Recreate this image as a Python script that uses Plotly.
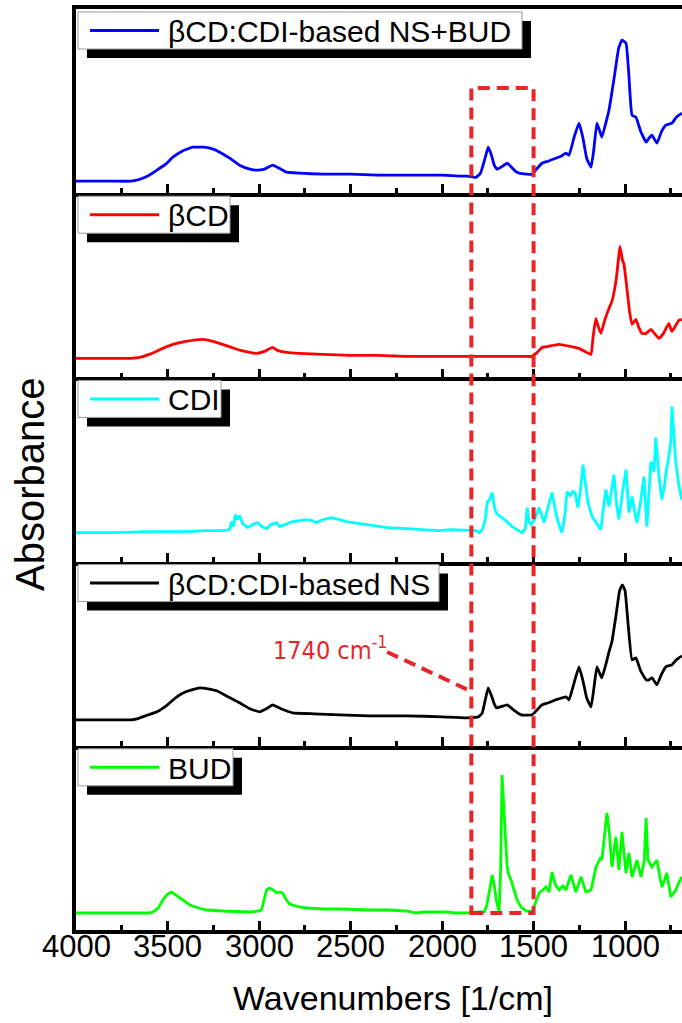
import numpy as np
import plotly.graph_objects as go
from plotly.subplots import make_subplots

# ---------------- DATA (wavenumber [1/cm], absorbance a.u. x100) ----------------
WN_NSBUD = [4000, 3800, 3700, 3670, 3651, 3600, 3558, 3510, 3471, 3420, 3362, 3300, 3250, 3215, 3160,
            3106, 3050, 3013, 2970, 2926, 2890, 2850, 2779, 2650, 2500, 2350, 2200, 2100, 2000, 1900,
            1860, 1830, 1813, 1790, 1765, 1748, 1730, 1715, 1699, 1670, 1644, 1620, 1600, 1579, 1540,
            1508, 1480, 1454, 1420, 1378, 1350, 1323, 1306, 1280, 1252, 1230, 1210, 1186, 1170, 1154,
            1140, 1127, 1100, 1088, 1060, 1035, 1017, 995, 980, 962, 941, 915, 885, 870, 853, 826,
            800, 777, 744, 720, 706, 690]
AB_NSBUD = [12, 12, 12, 13, 14, 18, 23, 29, 36, 42, 46, 46, 44, 41, 35,
            28, 24, 23, 24, 28, 25, 21, 20, 19, 19, 18, 18, 18, 18, 17,
            17, 16, 16, 20, 35, 46, 38, 28, 24, 27, 30, 26, 22, 20, 19,
            19, 25, 30, 32, 35, 37, 40, 38, 55, 70, 55, 35, 26, 45, 70,
            63, 56, 74, 83, 115, 145, 153, 150, 120, 78, 76, 62, 51, 55, 58, 50,
            62, 68, 70, 76, 78, 80]

WN_BCD = [4000, 3800, 3700, 3651, 3600, 3550, 3500, 3450, 3400, 3308, 3250, 3200, 3150, 3100, 3050,
          3013, 2970, 2926, 2900, 2850, 2779, 2650, 2500, 2350, 2200, 2000, 1850, 1750, 1650, 1550,
          1510, 1480, 1454, 1420, 1362, 1300, 1252, 1210, 1186, 1175, 1160, 1145, 1132, 1110, 1088,
          1072, 1050, 1035, 1028, 1015, 1006, 990, 975, 962, 941, 925, 908, 885, 859, 840,
          815, 790, 761, 744, 720, 706, 690]
AB_BCD = [19, 19, 19, 20, 23, 27, 31, 34, 36, 38, 36, 33, 30, 27, 25,
          24, 26, 30, 27, 25, 24, 23, 22, 22, 21, 21, 21, 21, 21, 21,
          21, 25, 30, 31, 33, 31, 29, 25, 23, 40, 59, 50, 44, 58, 69,
          76, 96, 120, 131, 118, 113, 89, 65, 53, 58, 50, 44, 44, 48, 44,
          39, 44, 54, 46, 53, 57, 58]

WN_CDI = [4000, 3800, 3600, 3400, 3300, 3200, 3161, 3150, 3140, 3130, 3118, 3106, 3090, 3062, 3035,
          3008, 2985, 2959, 2935, 2904, 2888, 2850, 2817, 2780, 2740, 2710, 2686, 2650, 2604, 2560,
          2522, 2450, 2380, 2300, 2195, 2100, 2015, 1950, 1850, 1813, 1797, 1780, 1764, 1753, 1740,
          1726, 1715, 1704, 1690, 1672, 1640, 1617, 1590, 1563, 1545, 1535, 1525, 1514, 1495, 1470,
          1455, 1443, 1420, 1399, 1380, 1360, 1345, 1330, 1317, 1300, 1285, 1274, 1258, 1245, 1230,
          1215, 1203, 1180, 1150, 1132, 1118, 1105, 1088, 1075, 1061, 1045, 1034, 1015, 995, 979,
          962, 948, 935, 915, 897, 881, 870, 859, 842, 832, 815, 799, 785, 777, 761,
          750, 744, 735, 723, 705, 690]
AB_CDI = [29, 29, 30, 30, 31, 31, 32, 40, 35, 47, 42, 46, 38, 34, 37,
          39, 35, 33, 37, 39, 35, 38, 40, 41, 42, 41, 39, 42, 44, 42,
          40, 38, 36, 34, 33, 32, 31, 32, 31, 31, 29, 32, 42, 60, 62,
          69, 55, 49, 46, 44, 39, 35, 32, 29, 33, 54, 40, 37, 42, 54,
          46, 39, 55, 69, 50, 36, 29, 45, 70, 66, 70, 69, 54, 70, 97,
          75, 59, 45, 36, 32, 55, 72, 55, 70, 87, 55, 42, 68, 92, 49,
          65, 50, 39, 60, 85, 35, 70, 100, 90, 124, 85, 62, 75, 89, 105,
          120, 155, 130, 99, 75, 62]

WN_NS = [4000, 3800, 3700, 3667, 3620, 3558, 3500, 3449, 3400, 3324, 3280, 3231, 3170, 3106, 3050,
         2997, 2960, 2926, 2880, 2817, 2700, 2560, 2400, 2195, 2000, 1868, 1800, 1780, 1765, 1748,
         1730, 1715, 1704, 1680, 1644, 1610, 1568, 1508, 1480, 1454, 1420, 1378, 1323, 1306, 1280,
         1252, 1230, 1210, 1186, 1170, 1154, 1140, 1127, 1100, 1088, 1072, 1050, 1030, 1015, 1000,
         985, 962, 941, 915, 885, 870, 853, 826, 800, 777, 744, 720, 706, 690]
AB_NS = [26, 26, 26, 27, 30, 34, 41, 49, 54, 58, 57, 55, 49, 43, 37,
         34, 37, 41, 37, 33, 32, 31, 30, 30, 29, 28, 29, 33, 45, 58,
         50, 42, 38, 39, 41, 36, 31, 31, 36, 41, 43, 46, 49, 46, 62,
         79, 65, 48, 39, 58, 79, 73, 68, 85, 94, 104, 130, 155, 161, 155,
         125, 86, 88, 75, 66, 66, 68, 61, 72, 79, 81, 86, 88, 90]

WN_BUD = [4000, 3800, 3650, 3600, 3580, 3550, 3526, 3500, 3477, 3455, 3433, 3400, 3378, 3330, 3286,
          3200, 3100, 3051, 3000, 2986, 2970, 2959, 2945, 2931, 2915, 2904, 2885, 2871, 2850, 2833,
          2780, 2740, 2650, 2560, 2400, 2300, 2195, 2141, 2100, 2050, 1977, 1930, 1868, 1800, 1770,
          1755, 1743, 1726, 1715, 1704, 1688, 1680, 1672, 1663, 1655, 1644, 1635, 1623, 1606, 1590,
          1568, 1540, 1508, 1490, 1470, 1450, 1432, 1416, 1399, 1380, 1361, 1340, 1323, 1296, 1269,
          1241, 1214, 1186, 1159, 1132, 1127, 1115, 1099, 1085, 1072, 1060, 1050, 1034, 1017, 995,
          979, 962, 935, 913, 895, 885, 875, 853, 826, 812, 799, 785, 772, 750, 723,
          705, 690]
AB_BUD = [17, 17, 17, 17, 18, 22, 30, 36, 38, 35, 32, 28, 25, 22, 20,
          19, 18, 18, 19, 20, 32, 40, 42, 41, 39, 37, 38, 37, 30, 26,
          23, 22, 21, 21, 20, 20, 19, 17, 18, 18, 18, 17, 17, 18, 18,
          25, 37, 55, 45, 30, 18, 60, 155, 120, 97, 63, 55, 50, 40, 30,
          23, 19, 18, 28, 37, 40, 43, 38, 58, 45, 40, 44, 40, 55, 38,
          53, 38, 40, 63, 73, 70, 90, 117, 95, 63, 80, 93, 60, 98, 57,
          77, 53, 70, 53, 70, 112, 70, 63, 70, 55, 43, 50, 57, 33, 40,
          48, 53]

LABELS = ["\u03b2CD:CDI-based NS+BUD", "\u03b2CD", "CDI", "\u03b2CD:CDI-based NS", "BUD"]
SERIES = [(WN_NSBUD, AB_NSBUD), (WN_BCD, AB_BCD), (WN_CDI, AB_CDI), (WN_NS, AB_NS), (WN_BUD, AB_BUD)]
COLORS = ["#0000ff", "#ff0000", "#00ffff", "#000000", "#00ff00"]
SHAPES = ["spline", "spline", "linear", "spline", "linear"]
X_TICKS = [4000, 3500, 3000, 2500, 2000, 1500, 1000]
X_TICK_TEXT = ["4000", "3500", "3000", "2500", "2000", "1500", "1000"]
BOX_WN = (1840, 1500)
NOTE = "1740 cm<sup>-1</sup>"

# ---------------- layout helpers (pixel -> paper) ----------------
W, H = 682, 1023
ML, MR, MT, MB = 76, 0, 9, 93
PW, PH = W - ML - MR, H - MT - MB


def px(p):
    return (p - ML) / PW


def py(p):
    return (H - MB - p) / PH


fig = make_subplots(rows=5, cols=1, shared_xaxes=True, vertical_spacing=0)

for i, ((wn, ab), col, shp) in enumerate(zip(SERIES, COLORS, SHAPES)):
    fig.add_trace(go.Scatter(x=wn, y=np.array(ab) / 100.0, mode="lines",
                             line=dict(color=col, width=2.8, shape=shp, smoothing=0.35),
                             showlegend=False, hoverinfo="skip"), row=i + 1, col=1)

FONT = "Liberation Sans, Arial, sans-serif"
for i in range(1, 6):
    fig.update_xaxes(row=i, col=1, range=[4000, 689], showline=True, linecolor="black", linewidth=3.5,
                     ticks="inside", ticklen=9, tickwidth=3, tickcolor="black", tickvals=X_TICKS,
                     minor=dict(ticks="inside", ticklen=5, tickwidth=2.5, tickcolor="black", dtick=250, tick0=0),
                     showgrid=False, zeroline=False, showticklabels=False, mirror=(i == 1))
    fig.update_yaxes(row=i, col=1, range=[0, 1.842], showline=True, linecolor="black", linewidth=3.5,
                     ticks="", showticklabels=False, showgrid=False, zeroline=False)

shapes = []
annotations = []

# x tick labels (placed close under the bottom axis)
for v, t in zip(X_TICKS, X_TICK_TEXT):
    annotations.append(dict(text=t, xref="x5", yref="paper", x=v, y=py(946), showarrow=False,
                            xanchor="center", yanchor="middle",
                            font=dict(family=FONT, size=31, color="black")))

# legend boxes
panel_tops = [MT + k * PH / 5 for k in range(5)]
box_right = [522, 230, 221, 439, 233]
for k in range(5):
    top = panel_tops[k] + 3
    bot = top + 37
    left = 78
    right = box_right[k]
    cy = (top + bot) / 2
    shapes.append(dict(type="rect", xref="paper", yref="paper", x0=px(left + 9), x1=px(right + 9),
                       y0=py(bot + 9), y1=py(top + 9), fillcolor="black", line=dict(width=0), layer="above"))
    shapes.append(dict(type="rect", xref="paper", yref="paper", x0=px(left), x1=px(right),
                       y0=py(bot), y1=py(top), fillcolor="white", line=dict(color="#9a9a9a", width=1),
                       layer="above"))
    shapes.append(dict(type="line", xref="paper", yref="paper", x0=px(90), x1=px(159),
                       y0=py(cy), y1=py(cy), line=dict(color=COLORS[k], width=3), layer="above"))
    annotations.append(dict(text=LABELS[k], xref="paper", yref="paper", x=px(166), y=py(cy + 1),
                            xanchor="left", yanchor="middle", showarrow=False,
                            font=dict(family=FONT, size=30, color="black")))

# red dashed box
red = "#e8262a"
shapes.append(dict(type="rect", xref="x", yref="paper", x0=BOX_WN[0], x1=BOX_WN[1],
                   y0=py(913), y1=py(88), line=dict(color=red, width=4, dash="12px,7px"),
                   fillcolor="rgba(0,0,0,0)", layer="above"))
shapes.append(dict(type="line", xref="x", yref="paper", x0=2300, x1=BOX_WN[0] + 5,
                   y0=py(652), y1=py(691), line=dict(color=red, width=4, dash="12px,7px"), layer="above"))
annotations.append(dict(text=NOTE, xref="x", yref="paper", x=2610, y=py(648), showarrow=False,
                        xanchor="center", yanchor="middle",
                        font=dict(family="Liberation Sans Narrow, DejaVu Sans Condensed, sans-serif",
                                  size=25, color=red)))

# axis titles
annotations.append(dict(text="Absorbance", xref="paper", yref="paper", x=px(30), y=py(485),
                        textangle=-90, showarrow=False, xanchor="center", yanchor="middle",
                        font=dict(family=FONT, size=40, color="black")))
annotations.append(dict(text="Wavenumbers [1/cm]", xref="paper", yref="paper", x=px(393), y=py(998),
                        showarrow=False, xanchor="center", yanchor="middle",
                        font=dict(family=FONT, size=34, color="black")))

fig.update_layout(width=W, height=H, margin=dict(l=ML, r=MR, t=MT, b=MB),
                  paper_bgcolor="white", plot_bgcolor="white", shapes=shapes,
                  annotations=annotations, showlegend=False)

fig.write_html("out.html", config={"displayModeBar": False})

# remove the default page margin so the figure fills the window exactly
with open("out.html", "r", encoding="utf-8") as f:
    html = f.read()
html = html.replace("<head>", "<head><style>html,body{margin:0;padding:0;overflow:hidden;}</style>", 1)
with open("out.html", "w", encoding="utf-8") as f:
    f.write(html)
